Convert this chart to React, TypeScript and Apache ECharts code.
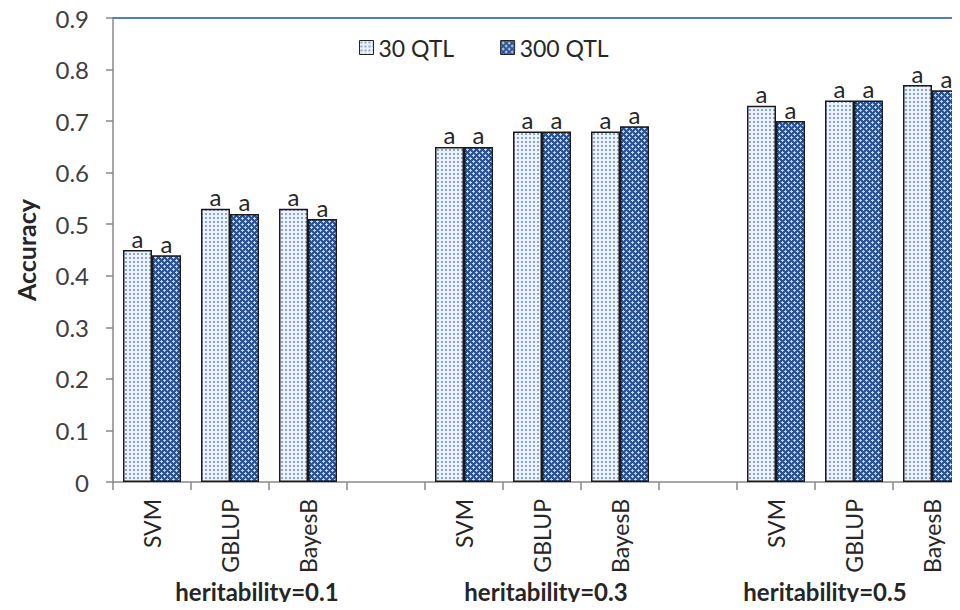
import React, { useEffect, useRef } from "react";
import * as echarts from "echarts";

// ---- data ----
const methods = ["SVM", "GBLUP", "BayesB"];
const heritabilities = ["heritability=0.1", "heritability=0.3", "heritability=0.5"];
const seriesNames = ["30 QTL", "300 QTL"];
const qtl30 = [
  [0.45, 0.53, 0.53],
  [0.65, 0.68, 0.68],
  [0.73, 0.74, 0.77],
];
const qtl300 = [
  [0.44, 0.52, 0.51],
  [0.65, 0.68, 0.69],
  [0.7, 0.74, 0.76],
];
const significance = [
  ["a", "a", "a"],
  ["a", "a", "a"],
  ["a", "a", "a"],
];
const yMin = 0;
const yMax = 0.9;
const yStep = 0.1;

const FONT = "Lato";

function makePattern(kind: "dots" | "cross") {
  const c = document.createElement("canvas");
  if (kind === "dots") {
    c.width = 4;
    c.height = 4;
    const ctx = c.getContext("2d")!;
    ctx.fillStyle = "#eef3fa";
    ctx.fillRect(0, 0, 4, 4);
    ctx.fillStyle = "#86a4d4";
    ctx.fillRect(1, 1, 2, 2);
    return { image: c, repeat: "repeat", imageWidth: 4, imageHeight: 4 };
  }
  c.width = 6;
  c.height = 6;
  const ctx = c.getContext("2d")!;
  ctx.fillStyle = "#2c5393";
  ctx.fillRect(0, 0, 6, 6);
  ctx.fillStyle = "#c3d3ec";
  const px: [number, number][] = [
    [2, 1], [1, 2], [2, 2], [3, 2], [2, 3],
    [5, 4], [4, 5], [5, 5], [0, 5], [5, 0],
  ];
  px.forEach(([x, y]) => ctx.fillRect(x, y, 1, 1));
  return { image: c, repeat: "repeat", imageWidth: 6, imageHeight: 6 };
}

export default function App() {
  const ref = useRef<HTMLDivElement>(null);
  useEffect(() => {
    if (!ref.current) return;
    const chart = echarts.init(ref.current, undefined, { renderer: "svg" });

    const categories: string[] = [];
    const groupCats: string[] = [];
    const d30: any[] = [];
    const d300: any[] = [];
    const lab30: string[] = [];
    const lab300: string[] = [];
    heritabilities.forEach((h, g) => {
      methods.forEach((m, i) => {
        categories.push(m);
        groupCats.push(i === 1 ? h : "");
        d30.push(qtl30[g][i]);
        d300.push(qtl300[g][i]);
        lab30.push(significance[g][i]);
        lab300.push(significance[g][i]);
      });
      if (g < heritabilities.length - 1) {
        categories.push("");
        groupCats.push("");
        d30.push("-");
        d300.push("-");
        lab30.push("");
        lab300.push("");
      }
    });

    const groupKey: Record<string, string> = {};
    heritabilities.forEach((h, g) => {
      groupKey[h] = "g" + g;
    });

    const pat30 = makePattern("dots");
    const pat300 = makePattern("cross");
    const textColor = "#262626";
    const axisGray = "#898989";

    const barLabel = (labels: string[]) => ({
      show: true,
      position: "top",
      distance: 0,
      fontFamily: FONT,
      fontSize: 24,
      color: textColor,
      formatter: (p: any) => labels[p.dataIndex] || "",
    });

    const groupStyle = {
      fontFamily: FONT,
      fontSize: 24,
      lineHeight: 22,
      fontWeight: "bold",
      color: textColor,
    };

    chart.setOption({
      animation: false,
      backgroundColor: "#ffffff",
      textStyle: { fontFamily: FONT },
      legend: {
        data: seriesNames,
        left: 359,
        top: 36,
        padding: 0,
        itemWidth: 14,
        itemHeight: 14,
        itemGap: 46,
        icon: "rect",
        itemStyle: { borderColor: "#222", borderWidth: 1 },
        textStyle: { fontFamily: FONT, fontSize: 23, color: textColor },
      },
      grid: {
        left: 113,
        top: 18,
        width: 858,
        height: 464,
        containLabel: false,
        outerBoundsMode: "none",
      },
      xAxis: [
        {
          type: "category",
          data: categories,
          position: "bottom",
          axisLine: { lineStyle: { color: axisGray, width: 1.5 } },
          axisTick: { show: true, interval: 0, length: 8, lineStyle: { color: axisGray, width: 1.5 } },
          axisLabel: {
            interval: 0,
            rotate: 90,
            margin: 17,
            fontFamily: FONT,
            fontSize: 23,
            color: textColor,
          },
          splitLine: { show: false },
        },
        {
          type: "category",
          data: groupCats,
          position: "bottom",
          offset: 94,
          axisLine: { show: false },
          axisTick: { show: false },
          axisLabel: {
            interval: 0,
            margin: 4,
            lineHeight: 22,
            formatter: (v: string) => (v ? "{" + groupKey[v] + "|" + v + "}" : ""),
            rich: {
              g0: { ...groupStyle, padding: [0, 0, 0, 54] },
              g1: { ...groupStyle, padding: [0, 0, 0, 8] },
              g2: { ...groupStyle, padding: [0, 58, 0, 0] },
            },
          },
        },
        {
          type: "category",
          data: categories,
          position: "top",
          axisLine: { lineStyle: { color: "#4f81bd", width: 2 } },
          axisTick: { show: false },
          axisLabel: { show: false },
        },
      ],
      yAxis: {
        type: "value",
        min: yMin,
        max: yMax,
        interval: yStep,
        name: "Accuracy",
        nameLocation: "middle",
        nameGap: 75,
        nameTextStyle: { fontFamily: FONT, fontSize: 25, fontWeight: "bold", color: textColor },
        axisLine: { show: true, lineStyle: { color: axisGray, width: 1.5 } },
        axisTick: { show: true, length: 7, lineStyle: { color: axisGray, width: 1.5 } },
        axisLabel: {
          margin: 24,
          fontFamily: FONT,
          fontSize: 24,
          color: "#404040",
          formatter: (v: number) => String(Math.round(v * 10) / 10),
        },
        splitLine: { show: false },
      },
      series: [
        {
          name: seriesNames[0],
          type: "bar",
          xAxisIndex: 0,
          data: d30,
          barWidth: 29,
          barGap: "0%",
          itemStyle: { color: pat30, borderColor: "#1a1a1a", borderWidth: 1.5 },
          label: barLabel(lab30),
        },
        {
          name: seriesNames[1],
          type: "bar",
          xAxisIndex: 0,
          data: d300,
          barWidth: 29,
          barGap: "0%",
          itemStyle: { color: pat300, borderColor: "#1a1a1a", borderWidth: 1.5 },
          label: barLabel(lab300),
        },
      ],
    } as any);

    return () => chart.dispose();
  }, []);

  return <div ref={ref} style={{ width: 960, height: 610, margin: -8 }} />;
}
